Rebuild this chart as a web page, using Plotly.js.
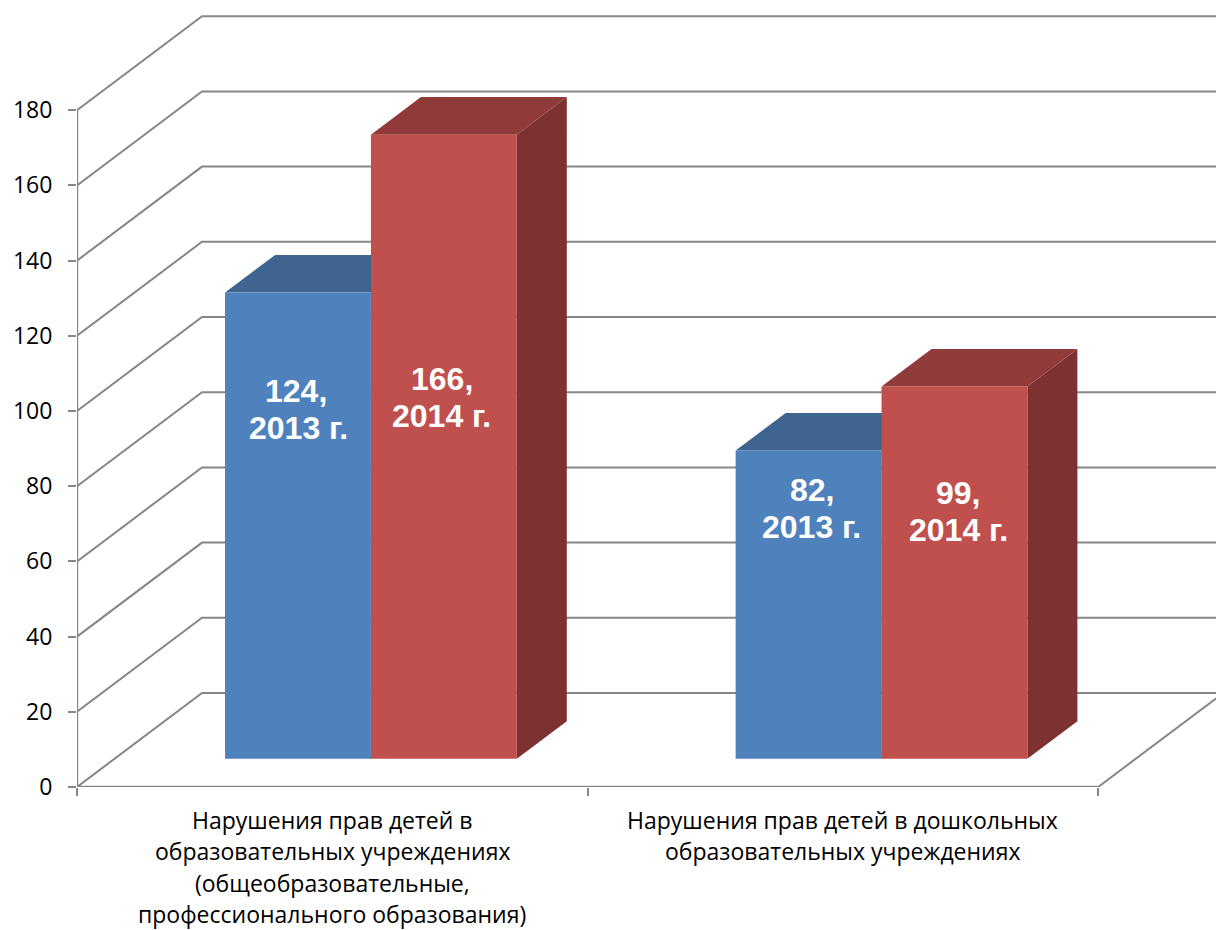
<!DOCTYPE html>
<html>
<head>
<meta charset="utf-8">
<script src="https://cdn.plot.ly/plotly-3.0.1.min.js"></script>
<style>html,body{margin:0;padding:0;background:#fff}#chart{width:1216px;height:930px}</style>
</head>
<body>
<div id="chart"></div>
<script>
// ---- data ----
const categoryLines = [
  ["Нарушения прав детей в", "образовательных учреждениях", "(общеобразовательные,", "профессионального образования)"],
  ["Нарушения прав детей в дошкольных", "образовательных учреждениях"]
];
const years = ["2013 г.", "2014 г."];
const values2013 = [124, 82];
const values2014 = [166, 99];
const yTicks = [0, 20, 40, 60, 80, 100, 120, 140, 160, 180];

// ---- label heights along the value axis ----
const labelHeights2013 = [100.5, 74.1];
const labelHeights2014 = [103.5, 73.4];
const labelShifts2013 = [1, 3];
const labelShifts2014 = [-2, 4];
const firstLineShifts2013 = [-3, 0];

// ---- oblique projection parameters (axis units) ----
const PX_PER_VALUE = 3.76, PX_PER_CAT = 510.6;
const WIDTH = 1216, HEIGHT = 930, LEFT = 77, PLOT_H = 787;
const depthX = 125 / PX_PER_CAT, depthY = 94 / PX_PER_VALUE;
const depthFront = 0.3, depthBack = 0.7;
const barInset = 0.2165, barWidth = 0.2857;
const GRID = "#868686";

const proj = (x, y, d) => [x + d * depthX, y + d * depthY];
const traces = [];
function poly(pts, color) {
  traces.push({
    type: "scatter", mode: "lines", fill: "toself", fillcolor: color,
    line: {width: 0, color: color}, hoverinfo: "skip", showlegend: false,
    x: pts.map(p => p[0]), y: pts.map(p => p[1])
  });
}
function line(pts, width, noClip) {
  traces.push({
    type: "scatter", mode: "lines", line: {color: GRID, width: width},
    hoverinfo: "skip", showlegend: false, cliponaxis: !noClip,
    x: pts.map(p => p[0]), y: pts.map(p => p[1])
  });
}

// walls and floor
const xEnd = categoryLines.length;
yTicks.forEach(t => {
  line([proj(0, t, 0), proj(0, t, 1), proj(xEnd + 1, t, 1)], 2);
});
line([proj(xEnd, 0, 0), proj(xEnd, 0, 1)], 2);

// bars
function bar(cat, slot, value, cFront, cTop, cSide) {
  const x0 = cat + barInset + slot * barWidth, x1 = x0 + barWidth;
  const f = depthFront, b = depthBack;
  poly([proj(x1, 0, f), proj(x1, 0, b), proj(x1, value, b), proj(x1, value, f)], cSide);
  poly([proj(x0, value, f), proj(x1, value, f), proj(x1, value, b), proj(x0, value, b)], cTop);
  poly([proj(x0, 0, f), proj(x1, 0, f), proj(x1, value, f), proj(x0, value, f)], cFront);
}
values2013.forEach((v, i) => {
  bar(i, 0, v, "#4F81BD", "#3E6490", "#36587F");
  bar(i, 1, values2014[i], "#C0504D", "#903A39", "#7D3130");
});

// axis lines on top
line([[0, 0], [0, 180]], 2.4, true);
line([[0, 0], [xEnd, 0]], 2.4, true);

// annotations
const annotations = [];
const labelFont = {family: "Liberation Sans, Arial, sans-serif", size: 32, color: "#fff"};
const LABEL_GAP = 18.5;
function dataLabel(cat, slot, value, year, h, shift, firstShift) {
  const x = proj(cat + barInset + (slot + 0.5) * barWidth, 0, depthFront)[0];
  [value + ",", year].forEach((txt, k) => {
    annotations.push({
      x: x, y: h, xref: "x", yref: "y", xanchor: "center", yanchor: "middle",
      xshift: shift + (k === 0 ? firstShift : 0), yshift: k === 0 ? LABEL_GAP : -LABEL_GAP,
      showarrow: false, font: labelFont, text: "<b>" + txt + "</b>"
    });
  });
}
values2013.forEach((v, i) => {
  dataLabel(i, 0, v, years[0], labelHeights2013[i], labelShifts2013[i], firstLineShifts2013[i]);
  dataLabel(i, 1, values2014[i], years[1], labelHeights2014[i], labelShifts2014[i], 0);
});
const catFont = {family: "Open Sans, sans-serif", size: 23, color: "#000"};
const catLineStart = 33, catLineStep = 31.4;
categoryLines.forEach((lines, c) => {
  lines.forEach((txt, k) => {
    annotations.push({
      x: (c + 0.5) / ((WIDTH - LEFT) / PX_PER_CAT), y: 0, xref: "paper", yref: "paper",
      xanchor: "center", yanchor: "middle", yshift: -(catLineStart + k * catLineStep),
      showarrow: false, font: catFont, text: txt
    });
  });
});

const layout = {
  width: WIDTH, height: HEIGHT, showlegend: false,
  paper_bgcolor: "#fff", plot_bgcolor: "#fff",
  margin: {l: LEFT, r: 0, t: 0, b: HEIGHT - PLOT_H, pad: 0},
  xaxis: {
    range: [0, (WIDTH - LEFT) / PX_PER_CAT], showgrid: false, zeroline: false, showline: false,
    tickmode: "array", tickvals: [0, 1, 2], ticktext: ["", "", ""],
    ticks: "outside", ticklen: 8, tickwidth: 2, tickcolor: GRID, fixedrange: true
  },
  yaxis: {
    range: [0, PLOT_H / PX_PER_VALUE], showgrid: false, zeroline: false, showline: false,
    tickmode: "array", tickvals: yTicks, ticktext: yTicks.map(String),
    ticks: "outside", ticklen: 8, tickwidth: 2, tickcolor: GRID, ticklabelstandoff: 11,
    tickfont: {family: "Open Sans, sans-serif", size: 23, color: "#000"}, fixedrange: true
  },
  annotations: annotations
};
Plotly.newPlot("chart", traces, layout, {displayModeBar: false, staticPlot: true});
</script>
</body>
</html>
